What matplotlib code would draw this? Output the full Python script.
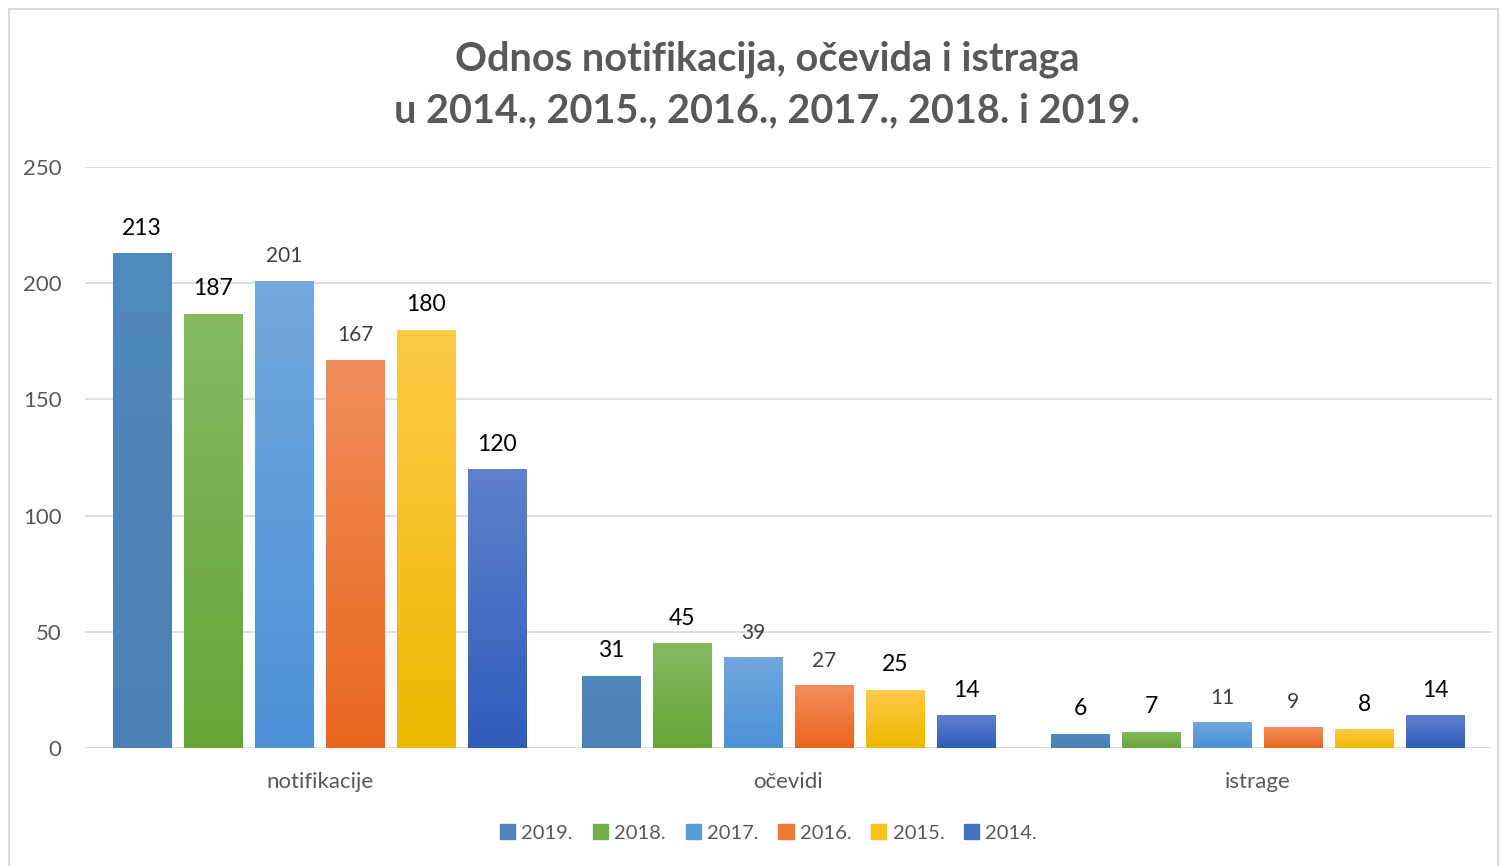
import matplotlib.pyplot as plt
import matplotlib.colors as mcolors
from matplotlib.patches import Rectangle
import numpy as np

plt.rcParams['font.family'] = ['Lato', 'DejaVu Sans']

# Data
categories = ['notifikacije', 'očevidi', 'istrage']
years = ['2019.', '2018.', '2017.', '2016.', '2015.', '2014.']
values = {
    '2019.': [213, 31, 6],
    '2018.': [187, 45, 7],
    '2017.': [201, 39, 11],
    '2016.': [167, 27, 9],
    '2015.': [180, 25, 8],
    '2014.': [120, 14, 14],
}

# gradient colours (top, bottom) per series
top_colors = ['#5089BF', '#84B962', '#72A8DC', '#F18D5A', '#FFCA48', '#5F81CC']
bot_colors = ['#4A80B6', '#66A637', '#4A91D7', '#E8671D', '#EDB800', '#2F5CBA']
legend_colors = ['#4E86BC', '#72AF4A', '#5A9BDB', '#EE7A3A', '#FBC01E', '#4470C4']
# label style: dark/large or gray/small
label_dark = [True, True, False, False, True, True]

fig = plt.figure(figsize=(15.01, 8.66), dpi=100)
ax = fig.add_axes([0.0566, 0.1363, 0.9374, 0.6707])

x = np.arange(len(categories))
step = 0.1514
width = 0.1237
n = len(years)

for i, yr in enumerate(years):
    offs = (i - (n - 1) / 2) * step
    bars = ax.bar(x + offs, values[yr], width, color='none', edgecolor='none',
                  label=yr, zorder=3)
    cmap = mcolors.LinearSegmentedColormap.from_list('g', [bot_colors[i], top_colors[i]])
    for b, v in zip(bars, values[yr]):
        bx, by = b.get_x(), b.get_y()
        bw, bh = b.get_width(), b.get_height()
        grad = np.linspace(0, 1, 100).reshape(-1, 1)
        im = ax.imshow(grad, cmap=cmap, origin='lower', aspect='auto',
                       extent=[bx, bx + bw, by, by + bh], zorder=3)
        im.set_clip_path(b)
        if label_dark[i]:
            ax.annotate(str(v), (bx + bw / 2, by + bh), xytext=(0, 10.5),
                        textcoords='offset points', ha='center', va='bottom',
                        fontsize=16.5, color='#000000', zorder=4)
        else:
            ax.annotate(str(v), (bx + bw / 2, by + bh), xytext=(0, 10.5),
                        textcoords='offset points', ha='center', va='bottom',
                        fontsize=15, color='#404040', zorder=4)

ax.set_xlim(-0.5, 2.5)
ax.set_ylim(0, 250)
ax.set_yticks([0, 50, 100, 150, 200, 250])
ax.set_xticks(x)
ax.set_xticklabels(categories)
ax.tick_params(axis='both', length=0, labelsize=16, labelcolor='#595959')
ax.tick_params(axis='x', pad=17)
ax.tick_params(axis='y', pad=17)
ax.grid(axis='y', color='#D9D9D9', linewidth=1.2, zorder=0)
ax.set_axisbelow(True)
for s in ax.spines.values():
    s.set_visible(False)

# legend with solid squares
handles = [Rectangle((0, 0), 1, 1, color=c) for c in legend_colors]
fig.legend(handles, years, loc='center', bbox_to_anchor=(0.512, 0.038), ncol=6,
           frameon=False, fontsize=14.5, labelcolor='#595959', handlelength=0.75,
           handleheight=0.75, handletextpad=0.3, columnspacing=1.0)

fig.text(0.511, 0.902, 'Odnos notifikacija, očevida i istraga\nu 2014., 2015., 2016., 2017., 2018. i 2019.',
         ha='center', va='center', fontsize=28.5, fontweight='bold', color='#595959',
         linespacing=1.45)

# outer chart border
fig.patches.append(Rectangle((0.006, -0.01), 0.992, 1.0, transform=fig.transFigure,
                             fill=False, edgecolor='#D9D9D9', linewidth=1.5))

fig.savefig('out.png', dpi=100)
